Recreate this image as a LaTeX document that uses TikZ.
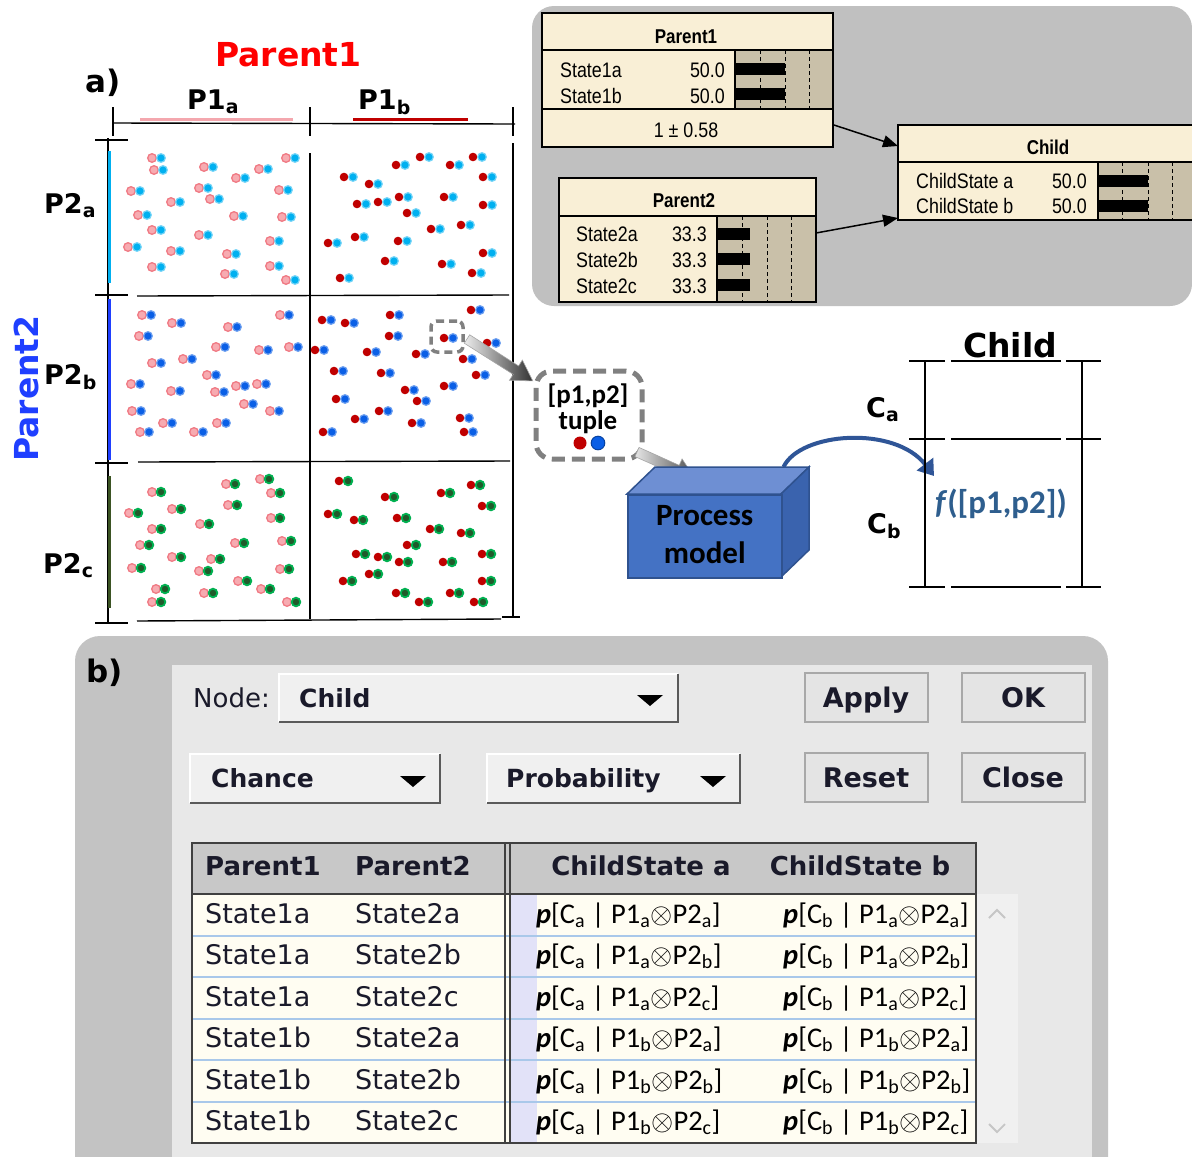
\RequirePackage{fix-cm}
\documentclass[tikz,border=0pt]{standalone}
\usepackage{fontspec}
\setmainfont{DejaVu Sans}
\newfontfamily\carl{Carlito}
\newfontfamily\narrowf[FakeStretch=0.85]{Liberation Sans}
\usetikzlibrary{arrows.meta,calc}
\newcommand\fsz[1]{\fontsize{#1}{#1}\selectfont}
\definecolor{nbg}{HTML}{C0C0C0}
\definecolor{cream}{HTML}{F9EFD6}
\definecolor{bargray}{HTML}{C9C0A9}
\definecolor{pinkf}{HTML}{F7ABB1}
\definecolor{pinkd}{HTML}{F07A84}
\definecolor{pinkbar}{HTML}{F4A7AE}
\definecolor{lblue}{HTML}{00B0F0}
\definecolor{dred}{HTML}{C00000}
\definecolor{mblue}{HTML}{0A5FE6}
\definecolor{green1}{HTML}{00B050}
\definecolor{green2}{HTML}{215A2B}
\definecolor{p2blue}{HTML}{1F3FFF}
\definecolor{p2green}{HTML}{3B5323}
\definecolor{pmfront}{HTML}{4472C4}
\definecolor{pmtop}{HTML}{6E8FD3}
\definecolor{pmside}{HTML}{3A63AE}
\definecolor{pmedge}{HTML}{2F528F}
\definecolor{fblue}{HTML}{2E5E8E}
\definecolor{curve}{HTML}{2F5597}
\definecolor{dlgout}{HTML}{C3C3C3}
\definecolor{dlgin}{HTML}{E8E8E8}
\definecolor{btnf}{HTML}{E4E4E4}
\definecolor{btnedge}{HTML}{A8A8A8}
\definecolor{dropf}{HTML}{F0F0F0}
\definecolor{ddark}{HTML}{5A5A5A}
\definecolor{dlgtext}{HTML}{1A1A2A}
\definecolor{thead}{HTML}{C8C8C8}
\definecolor{trow}{HTML}{FFFDF2}
\definecolor{tsep}{HTML}{A9C8EA}
\definecolor{tlav}{HTML}{E2E2F8}
\definecolor{tedge}{HTML}{404040}
\newcommand\dpair[4]{\path[#3] (#1,#2) circle (4.3); \path[#4] (#1+9,#2) circle (4.3);}
\newcommand\pe[3]{\textbf{\textit{p}}[C\textsubscript{#1} | P1\textsubscript{#2}$\otimes$P2\textsubscript{#3}]}
\begin{document}
\begin{tikzpicture}[x=1pt,y=-1pt,
  lbl/.style={font=\fsz{27}\bfseries, inner sep=0},
  big/.style={font=\fsz{33}\bfseries, inner sep=0},
  axis/.style={line width=1.4, black},
  pk/.style={fill=pinkf, draw=pinkd, line width=1.3},
  rd/.style={fill=dred},
  lb/.style={fill=lblue, draw=lblue!55, line width=1.2},
  bl/.style={fill=mblue, draw=mblue!60, line width=1.2},
  gr/.style={fill=green2, draw=green1, line width=1.8},
  nline/.style={line width=1.3, black},
  ntext/.style={font=\narrowf\fsz{21}, inner sep=0},
  ntitle/.style={font=\narrowf\bfseries\fsz{20}, inner sep=0},
  ndash/.style={dash pattern=on 4pt off 3pt, line width=0.9},
  netarrow/.style={line width=1.5, -{Triangle[length=15pt,width=12pt]}},
  dtext/.style={font=\fsz{25}\bfseries, text=dlgtext, inner sep=0},
  ttext/.style={font=\fsz{27}, text=dlgtext, inner sep=0},
  thtext/.style={font=\fsz{26}\bfseries, text=dlgtext, inner sep=0},
  ptext/.style={font=\carl\fsz{28.5}, inner sep=0},
  btn/.style={draw=btnedge, fill=btnf, line width=1.2}
]
\useasboundingbox (0,0) rectangle (1192,1157);
\fill[white] (0,0) rectangle (1192,1157);

%================ Netica panel
\fill[nbg, rounded corners=22pt] (532,6) rectangle (1192,306);
% Parent1 box
\fill[cream] (542,13) rectangle (833,147);
\fill[bargray] (735,50) rectangle (833,109);
\foreach \xx in {760,785,809} \draw[ndash] (\xx,50) -- (\xx,109);
\fill (735,63) rectangle (785,75);
\fill (735,88) rectangle (785,100);
\draw[nline] (542,50) -- (833,50) (542,109) -- (833,109) (735,50) -- (735,109);
\draw[nline] (542,13) rectangle (833,147);
\node[ntitle, anchor=base] (p1t) at (686,43) {Parent1};
\node[ntext, anchor=base west] (p1s1) at (560,77) {State1a};
\node[ntext, anchor=base west] (p1s2) at (560,103) {State1b};
\node[ntext, anchor=base east] (p1v1) at (725,77) {50.0};
\node[ntext, anchor=base east] (p1v2) at (725,103) {50.0};
\node[ntext, anchor=base] (p1m) at (686,137) {1 ± 0.58};
% Parent2 box
\fill[cream] (559,178) rectangle (816,302);
\fill[bargray] (717,216) rectangle (816,302);
\foreach \xx in {742,767,791} \draw[ndash] (\xx,216) -- (\xx,302);
\fill (717,228) rectangle (750,240);
\fill (717,253) rectangle (750,265);
\fill (717,279) rectangle (750,291);
\draw[nline] (559,216) -- (816,216) (717,216) -- (717,302);
\draw[nline] (559,178) rectangle (816,302);
\node[ntitle, anchor=base] (p2t) at (684,207) {Parent2};
\node[ntext, anchor=base west] (p2s1) at (576,241) {State2a};
\node[ntext, anchor=base west] (p2s2) at (576,267) {State2b};
\node[ntext, anchor=base west] (p2s3) at (576,293) {State2c};
\node[ntext, anchor=base east] (p2v1) at (707,241) {33.3};
\node[ntext, anchor=base east] (p2v2) at (707,267) {33.3};
\node[ntext, anchor=base east] (p2v3) at (707,293) {33.3};
% Child box
\fill[cream] (898,125) rectangle (1193,220);
\fill[bargray] (1098,162) rectangle (1193,220);
\foreach \xx in {1122,1148,1172} \draw[ndash] (\xx,162) -- (\xx,220);
\fill (1098,175) rectangle (1148,187);
\fill (1098,200) rectangle (1148,212);
\draw[nline] (898,162) -- (1193,162) (1098,162) -- (1098,220);
\draw[nline] (1193,125) -- (898,125) -- (898,220) -- (1193,220);
\node[ntitle, anchor=base] (cht) at (1048,154) {Child};
\node[ntext, anchor=base west] (chs1) at (916,188) {ChildState a};
\node[ntext, anchor=base west] (chs2) at (916,213) {ChildState b};
\node[ntext, anchor=base east] (chv1) at (1087,188) {50.0};
\node[ntext, anchor=base east] (chv2) at (1087,213) {50.0};
\coordinate (a1s) at (834,125);
\coordinate (a1e) at (898,146);
\coordinate (a2s) at (816,233);
\coordinate (a2e) at (898,218);
\draw[netarrow] (a1s) -- (a1e);
\draw[netarrow] (a2s) -- (a2e);

%================ Grid a)
\node[font=\fsz{31}\bfseries, inner sep=0, anchor=base west] (alab) at (85,92) {a)};
\node[big, text=red, anchor=base west] (par1) at (215,66) {Parent1};
\node[big, text=p2blue, rotate=90, anchor=base west] (par2) at (38,462) {Parent2};
\node[lbl, anchor=base west] (p1a) at (187,109) {P1\textsubscript{a}};
\node[lbl, anchor=base west] (p1b) at (358,109) {P1\textsubscript{b}};
\node[lbl, anchor=base west] (p2a) at (44,213) {P2\textsubscript{a}};
\node[lbl, anchor=base west] (p2b) at (44,384) {P2\textsubscript{b}};
\node[lbl, anchor=base west] (p2c) at (43,573) {P2\textsubscript{c}};
\draw[axis] (113,123) -- (515,124);
\foreach \xx in {113,310,513} \draw[axis] (\xx,107) -- (\xx,136);
\draw[line width=3.5, pinkbar] (140,119.5) -- (293,119.5);
\draw[line width=3.5, dred] (353,119.5) -- (468,119.5);
\draw[axis] (108,138) -- (108,623);
\foreach \yy in {140,295,463,623} \draw[axis] (95,\yy) -- (128,\yy);
\draw[line width=3.5, lblue] (109.5,151) -- (109.5,283);
\draw[line width=3.5, p2blue] (109.5,299) -- (109.5,460);
\draw[line width=3.5, p2green] (109.5,476) -- (109.5,608);
\draw[axis] (137,296) -- (509,295);
\draw[axis] (138,462) -- (510,461);
\draw[axis] (137,621) -- (501,619);
\draw[axis] (310,153) -- (310,619);
\draw[axis] (513,143) -- (513,617);
\draw[axis] (502,617) -- (520,617);
% dots
\foreach \x/\y in {152/158,154/170,204/167,259/169,286/158,236/178,131/191,199/188,210/199,171/202,279/190,138/215,234/216,282/217,152/230,199/235,128/247,171/251,270/241,227/254,152/267,270/266,225/274,286/280}{\dpair{\x}{\y}{pk}{lb}}
\foreach \x/\y in {420/157,473/157,396/165,450/165,344/177,483/177,369/184,357/204,378/202,399/197,444/197,483/205,407/213,431/229,461/225,328/243,355/237,398/241,483/253,385/261,442/264,340/278,472/273}{\dpair{\x}{\y}{rd}{lb}}
\foreach \x/\y in {142/315,280/315,172/323,228/327,139/336,216/347,259/350,289/347,152/363,183/359,207/375,131/384,171/391,215/392,236/386,257/384,132/411,244/404,270/411,163/423,217/423,140/432,194/432}{\dpair{\x}{\y}{pk}{bl}}
\foreach \x/\y in {322/320,345/323,390/315,471/310,389/336,444/338,487/343,315/350,367/352,416/354,463/359,334/371,381/373,476/375,405/390,444/386,417/401,336/399,379/411,355/419,412/423,460/418,323/432,464/432}{\dpair{\x}{\y}{rd}{bl}}
\foreach \x/\y in {260/479,226/484,152/492,271/493,228/505,129/513,172/509,271/518,152/529,200/524,140/545,235/543,282/541,172/557,211/559,132/568,199/571,280/569,156/589,238/581,261/589,204/593,152/602,287/602}{\dpair{\x}{\y}{pk}{gr}}
\foreach \x/\y in {339/481,385/497,441/493,471/485,482/506,328/514,354/520,397/518,430/529,461/533,407/545,356/554,378/557,399/562,443/562,482/554,369/574,343/581,482/581,396/593,419/602,450/593,474/602}{\dpair{\x}{\y}{rd}{gr}}

% selection box, tuple
\node[draw=gray, line width=3.5, dash pattern=on 8pt off 5pt, rounded corners=6pt, minimum width=32pt, minimum height=31pt, inner sep=0] (sel) at (447,336.5) {};
\node[draw=gray, line width=5, dash pattern=on 13pt off 7pt, rounded corners=16pt, minimum width=106pt, minimum height=88pt, inner sep=0] (tuple) at (589,415) {};
\node[font=\carl\bfseries\fontsize{27}{26}\selectfont, align=center, inner sep=0] (tupt) at (588,409) {[p1,p2]\\tuple};
\fill[dred] (580,443) circle (6.5);
\fill[mblue, draw=mblue!70!black, line width=1] (598,443) circle (6.8);
\begin{scope}[shift={(467,339)},rotate=-32.5]
\shade[left color=gray!15, right color=black!80, draw=gray!70, line width=0.6] (0,-5) -- (58,-5) -- (58,-12) -- (78,0) -- (58,12) -- (58,5) -- (0,5) -- cycle;
\end{scope}
\begin{scope}[shift={(637,452)},rotate=-24]
\shade[left color=gray!20, right color=black!70, draw=gray!70, line width=0.6] (0,-5) -- (44,-5) -- (44,-12) -- (63,0) -- (44,12) -- (44,5) -- (0,5) -- cycle;
\end{scope}

% process model box
\fill[pmtop, draw=pmedge, line width=1.5] (627,494) -- (655,467) -- (809,467) -- (781,494) -- cycle;
\fill[pmside, draw=pmedge, line width=1.5] (781,494) -- (809,467) -- (809,550) -- (781,577) -- cycle;
\node[fill=pmfront, draw=pmedge, line width=1.5, minimum width=154pt, minimum height=83pt, anchor=north west, inner sep=0] (pm) at (627,494) {};
\node[font=\carl\bfseries\fontsize{31}{38}\selectfont, align=center, inner sep=0] (pmt) at ($(pm.center)+(0,-2)$) {Process\\model};
\coordinate (pmtop) at ($(pm.north east)+(1,-27)$);
\coordinate (ftarget) at (934,476);
\draw[curve, line width=4, -{Triangle[length=15pt,width=20pt]}] (pmtop) .. controls (800,432) and (895,425) .. (ftarget);

% child column
\node[big, anchor=base] (chl) at (1010,357) {Child};
\foreach \yy in {361,439,587} {\draw[line width=1.3] (909,\yy) -- (945,\yy) (951,\yy) -- (1061,\yy) (1066,\yy) -- (1101,\yy);}
\draw[line width=1.3] (925,361) -- (925,587);
\draw[line width=1.3] (1082,361) -- (1082,587);
\node[lbl, anchor=base west] (ca) at (866,417) {C\textsubscript{a}};
\node[lbl, anchor=base west] (cb) at (867,533) {C\textsubscript{b}};
\node[font=\carl\bfseries\fsz{33}, text=fblue, inner sep=0, anchor=base west] (fx) at (935,513) {\textit{f}([p1,p2])};

%================ Dialog b)
\fill[dlgout, rounded corners=25pt] (75,636) rectangle (1108,1190);
\fill[dlgin] (172,665) rectangle (1092,1190);
\node[font=\fsz{31}\bfseries, inner sep=0, anchor=base west] (blab) at (86,682) {b)};
% dropdowns
\foreach \xa/\ya/\xb/\yb/\tx in {279/674/678/722/650, 190/754/440/803/413, 487/754/740/803/713}{
  \fill[dropf] (\xa,\ya) rectangle (\xb,\yb);
  \draw[white, line width=1.5] (\xa,\yb) -- (\xa,\ya) -- (\xb,\ya);
  \draw[ddark, line width=2.5] (\xa,\yb) -- (\xb,\yb) -- (\xb,\ya);
}
\fill (637,695) -- (663,695) -- (650,706) -- cycle;
\fill (400,776) -- (426,776) -- (413,787) -- cycle;
\fill (700,776) -- (726,776) -- (713,787) -- cycle;
\node[font=\fsz{26}, text=dlgtext, inner sep=0, anchor=base west] (nodel) at (193,707) {Node:};
\node[dtext, anchor=base west] (nodev) at (299,707) {Child};
\node[dtext, anchor=base west] (chance) at (211,787) {Chance};
\node[dtext, anchor=base west] (prob) at (506,787) {Probability};
% buttons
\draw[btn] (805,673) rectangle (928,722);
\draw[btn] (962,673) rectangle (1085,722);
\draw[btn] (805,753) rectangle (928,802);
\draw[btn] (962,753) rectangle (1085,802);
\node[dtext, font=\fsz{27}\bfseries, anchor=base] (apply) at (866,707) {Apply};
\node[dtext, font=\fsz{27}\bfseries, anchor=base] (okb) at (1023,707) {OK};
\node[dtext, font=\fsz{27}\bfseries, anchor=base] (reset) at (866,787) {Reset};
\node[dtext, font=\fsz{27}\bfseries, anchor=base] (close) at (1023,787) {Close};
% table
\fill[thead] (192,843) rectangle (976,894);
\fill[trow] (192,894) rectangle (976,1143);
\fill[tlav] (511,894) rectangle (537,1143);
\fill[dropf] (977,894) rectangle (1018,1143);
\foreach \yy in {936,977,1019,1060,1102} \draw[tsep, line width=1.2] (192,\yy) -- (976,\yy);
\draw[tedge, line width=1.5] (192,894) -- (976,894);
\draw[tedge, line width=1.5] (505,843) -- (505,1143) (510,843) -- (510,1143);
\draw[tedge, line width=2] (192,843) rectangle (976,1143);
\draw[gray!45, line width=1.8] (989,918) -- (997,910) -- (1005,918);
\draw[gray!45, line width=1.8] (989,1124) -- (997,1132) -- (1005,1124);
\node[thtext, anchor=base west] (h1) at (205,875) {Parent1};
\node[thtext, anchor=base west] (h2) at (355,875) {Parent2};
\node[thtext, anchor=base] (h3) at (641,875) {ChildState a};
\node[thtext, anchor=base] (h4) at (860,875) {ChildState b};
\foreach \r/\sa/\sb/\ka/\kb in {0/1a/2a/a/a,1/1a/2b/a/b,2/1a/2c/a/c,3/1b/2a/b/a,4/1b/2b/b/b,5/1b/2c/b/c}{
  \pgfmathsetmacro\yy{923+41.5*\r}
  \node[ttext, anchor=base west] (ra\r) at (205,\yy) {State\sa};
  \node[ttext, anchor=base west] (rb\r) at (355,\yy) {State\sb};
  \node[ptext, anchor=base west] (rc\r) at (536,\yy) {\pe{a}{\ka}{\kb}};
  \node[ptext, anchor=base west] (rd\r) at (783,\yy) {\pe{b}{\ka}{\kb}};
}
\end{tikzpicture}
\end{document}
